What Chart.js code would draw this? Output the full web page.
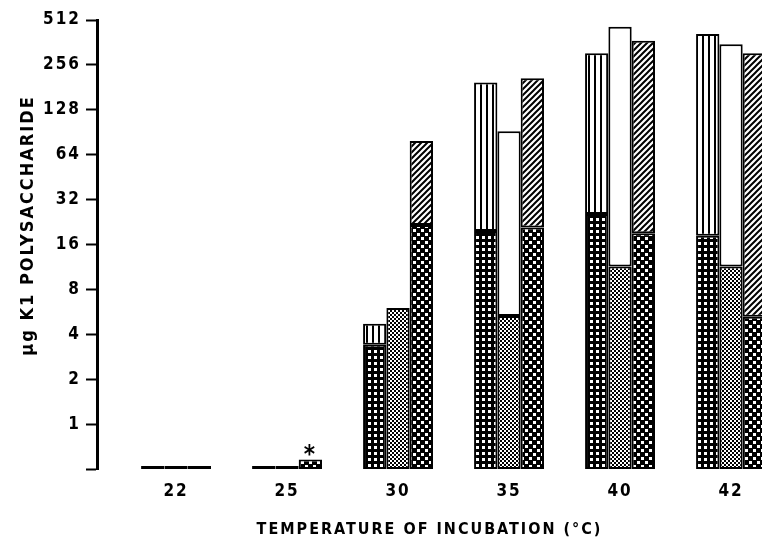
<!DOCTYPE html>
<html>
<head>
<meta charset="utf-8">
<script src="https://cdn.jsdelivr.net/npm/chart.js@4.4.0/dist/chart.umd.min.js"></script>
<style>
  body { margin: 0; background: #fff; }
  #wrap { width: 762px; height: 545px; position: relative; }
</style>
</head>
<body>
<div id="wrap"><canvas id="k1Chart"></canvas></div>
<script>
        // Temperatures (x categories)
        const categories = ['22', '25', '30', '35', '40', '42'];

        // Bar 1: grid part + vertical-line part (top = total)
        const lower1 = [0, 0, 3.4, 19.7, 25.6, 18.3];
        const total1 = [null, null, 4.7, 195, 306, 412];
        // Bar 2: stippled part + open part
        const lower2 = [0, 0, 6.0, 5.3, 11.4, 11.4];
        const total2 = [null, null, null, 92, 461, 352];
        // Bar 3: checkered part + hatched part
        const lower3 = [0, 0.58, 21.6, 20.8, 19.0, 5.25];
        const total3 = [null, null, 79, 208, 372, 306];

        const yTicks = [0.5, 1, 2, 4, 8, 16, 32, 64, 128, 256, 512];
        const yMin = 0.5;

        const FONT = "'DejaVu Sans Condensed', 'DejaVu Sans', sans-serif";

        // Fill patterns
        function makePattern(w, h, draw) {
            const c = document.createElement('canvas');
            c.width = w;
            c.height = h;
            const g = c.getContext('2d');
            draw(g, w, h);
            return document.createElement('canvas').getContext('2d').createPattern(c, 'repeat');
        }

        const gridFill = makePattern(6, 6, (g) => {
            g.fillStyle = '#000';
            g.fillRect(0, 0, 6, 6);
            g.fillStyle = '#fff';
            g.fillRect(2, 2, 3, 3);
        });
        const stippleFill = makePattern(4, 4, (g) => {
            g.fillStyle = '#fff';
            g.fillRect(0, 0, 4, 4);
            g.fillStyle = '#000';
            g.fillRect(0, 0, 2, 2);
            g.fillRect(2, 2, 2, 2);
        });
        const checkFill = makePattern(8, 8, (g) => {
            g.fillStyle = '#000';
            g.fillRect(0, 0, 8, 8);
            g.fillStyle = '#fff';
            g.fillRect(1, 1, 3, 3);
            g.fillRect(5, 5, 3, 3);
        });
        const vlineFill = makePattern(6, 2, (g) => {
            g.fillStyle = '#fff';
            g.fillRect(0, 0, 6, 2);
            g.fillStyle = '#000';
            g.fillRect(0, 0, 2, 2);
        });
        const hatchFill = makePattern(6, 6, (g) => {
            g.fillStyle = '#fff';
            g.fillRect(0, 0, 6, 6);
            g.strokeStyle = '#000';
            g.lineWidth = 2;
            g.beginPath();
            g.moveTo(-1, 7); g.lineTo(7, -1);
            g.moveTo(-4, 4); g.lineTo(4, -4);
            g.moveTo(2, 10); g.lineTo(10, 2);
            g.stroke();
        });

        // lower parts start at the axis floor; 0 (not detected) becomes a flat bar
        function lowerPts(arr) {
            return arr.map((v, i) => ({ x: i, y: [yMin, Math.max(v, yMin)] }));
        }
        function upperPts(low, tot) {
            return tot.map((t, i) => ({ x: i, y: t === null ? null : [low[i], t] }));
        }

        const barBase = {
            borderColor: '#000',
            borderWidth: 2,
            borderSkipped: false,
            categoryPercentage: 0.63,
            barPercentage: 1.0
        };

        // letter spacing for the typewriter look
        const spacing = {
            id: 'spacing',
            beforeLayout(chart) { chart.ctx.letterSpacing = '2px'; },
            beforeDraw(chart) { chart.ctx.letterSpacing = '2px'; }
        };

        // asterisk above the 25 degree bar
        const asterisk = {
            id: 'asterisk',
            afterDatasetsDraw(chart) {
                const bar = chart.getDatasetMeta(4).data[1];
                const ctx = chart.ctx;
                ctx.save();
                ctx.letterSpacing = '0px';
                ctx.fillStyle = '#000';
                ctx.font = 'bold 24px ' + FONT;
                ctx.textAlign = 'center';
                ctx.textBaseline = 'bottom';
                ctx.fillText('*', bar.x - 1, bar.y + 8);
                ctx.restore();
            }
        };

        const ctx = document.getElementById('k1Chart').getContext('2d');
        const k1Chart = new Chart(ctx, {
            type: 'bar',
            data: {
                datasets: [
                    { ...barBase, data: lowerPts(lower1), stack: 'a', backgroundColor: gridFill, minBarLength: 3 },
                    { ...barBase, data: upperPts(lower1, total1), stack: 'a', backgroundColor: vlineFill },
                    { ...barBase, data: lowerPts(lower2), stack: 'b', backgroundColor: stippleFill, minBarLength: 3 },
                    { ...barBase, data: upperPts(lower2, total2), stack: 'b', backgroundColor: '#fff' },
                    { ...barBase, data: lowerPts(lower3), stack: 'c', backgroundColor: checkFill, minBarLength: 3 },
                    { ...barBase, data: upperPts(lower3, total3), stack: 'c', backgroundColor: hatchFill }
                ]
            },
            options: {
                responsive: true,
                maintainAspectRatio: false,
                animation: false,
                layout: { padding: { left: 18, top: 20, right: 0, bottom: 6 } },
                plugins: {
                    legend: { display: false },
                    tooltip: { enabled: false }
                },
                scales: {
                    x: {
                        type: 'linear',
                        stacked: true,
                        offset: false,
                        min: -0.712,
                        max: 5.279,
                        afterBuildTicks(scale) {
                            scale.ticks = categories.map((c, i) => ({ value: i }));
                        },
                        afterFit(scale) { scale.height = 70; },
                        grid: { display: false, drawTicks: false },
                        border: { display: false },
                        ticks: {
                            padding: 12,
                            color: '#000',
                            font: { family: FONT, size: 17, weight: 'bold' },
                            callback: (v) => categories[v]
                        },
                        title: {
                            display: true,
                            text: 'TEMPERATURE OF INCUBATION (°C)',
                            color: '#000',
                            font: { family: FONT, size: 16, weight: 'bold' },
                            padding: { top: 0, bottom: 0 }
                        }
                    },
                    y: {
                        type: 'logarithmic',
                        stacked: false,
                        min: yMin,
                        max: 512,
                        afterBuildTicks(scale) {
                            scale.ticks = yTicks.map(v => ({ value: v }));
                        },
                        afterFit(scale) { scale.width = 79; },
                        grid: {
                            drawOnChartArea: false,
                            drawTicks: true,
                            tickLength: 11,
                            tickWidth: 2,
                            tickColor: '#000'
                        },
                        border: { display: true, color: '#000', width: 3 },
                        ticks: {
                            padding: 5,
                            color: '#000',
                            font: { family: FONT, size: 17, weight: 'bold' },
                            callback: (v) => (v === yMin ? '' : String(v))
                        },
                        title: {
                            display: true,
                            text: '     µg K1 POLYSACCHARIDE',
                            color: '#000',
                            font: { family: FONT, size: 18, weight: 'bold' },
                            padding: { top: 0, bottom: 0 }
                        }
                    }
                }
            },
            plugins: [spacing, asterisk]
        });
</script>
</body>
</html>
